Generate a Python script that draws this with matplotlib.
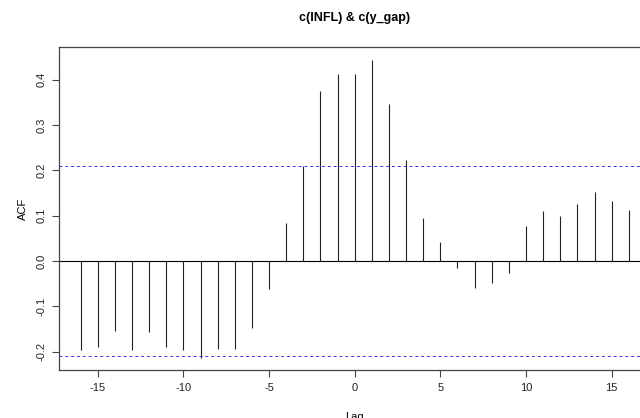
import numpy as np
import matplotlib.pyplot as plt

plt.rcParams['font.family'] = ['Liberation Sans', 'DejaVu Sans']
plt.rcParams['axes.unicode_minus'] = False

# cross-correlation values
lags = list(range(-16, 17))
acf = [-0.195, -0.189, -0.153, -0.196, -0.156, -0.189, -0.197, -0.214, -0.193, -0.193,
       -0.147, -0.062, 0.084, 0.209, 0.375, 0.413, 0.413, 0.444, 0.346, 0.222,
       0.094, 0.041, -0.016, -0.060, -0.048, -0.027, 0.077, 0.111, 0.099, 0.126,
       0.153, 0.133, 0.112]
n_obs = 92
ci = 2 / np.sqrt(n_obs)

fig = plt.figure(figsize=(6.4, 4.18), dpi=100)
ax = fig.add_axes([0.0917, 0.1148, 0.925, 0.772])

ax.vlines(lags, 0, acf, color='#222222', lw=0.8)
ax.axhline(0, color='black', lw=0.8)
ax.axhline(ci, color='blue', lw=0.7, ls=(0, (3, 3)), alpha=0.8)
ax.axhline(-ci, color='blue', lw=0.7, ls=(0, (3, 3)), alpha=0.8)

ax.set_xlim(-17.28, 17.28)
ax.set_ylim(-0.240, 0.471)
ax.set_xticks([-15, -10, -5, 0, 5, 10, 15])
ax.set_yticks([-0.2, -0.1, 0.0, 0.1, 0.2, 0.3, 0.4])
ax.set_yticklabels(['-0.2', '-0.1', '0.0', '0.1', '0.2', '0.3', '0.4'], rotation=90, va='center')

for s in ax.spines.values():
    s.set_color('#444444')
    s.set_linewidth(0.9)
ax.tick_params(length=5, width=0.8, color='#444444', labelsize=8, labelcolor='#222222', pad=4)

ax.set_title('c(INFL) & c(y_gap)', fontsize=9, fontweight='bold', pad=19)
ax.set_ylabel('ACF', fontsize=8, labelpad=6)
ax.set_xlabel('Lag', fontsize=8, labelpad=14)

fig.savefig('out.png', dpi=100)
